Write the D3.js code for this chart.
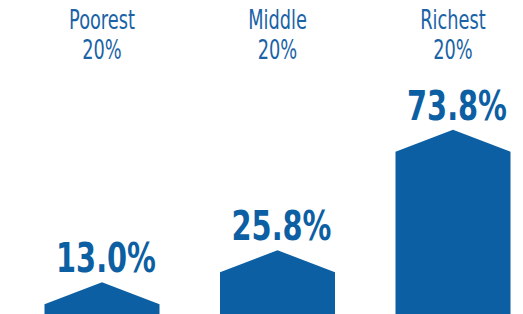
<!DOCTYPE html>
<html lang="en">
<head>
<meta charset="utf-8">
<title>Share by quintile</title>
<script src="https://cdn.jsdelivr.net/npm/d3@7"></script>
<style>
  body { margin: 0; background: #fff; }
  .grp { fill: #1a63a6; font-family: "DejaVu Sans Condensed", "DejaVu Sans", sans-serif; font-size: 26px; }
  .val { fill: #0d5fa3; font-family: "DejaVu Sans Condensed", "DejaVu Sans", sans-serif; font-weight: bold; font-size: 40px; }
  .house { fill: #0d5fa3; }
</style>
</head>
<body>
<script>
var groups = ["Poorest", "Middle", "Richest"];
var groupSub = ["20%", "20%", "20%"];
var values = [13.0, 25.8, 73.8];

var w = 523, h = 314;
var barW = 115, roof = 22;

var svg = d3.select("body").append("svg")
  .attr("width", w)
  .attr("height", h);

var x = d3.scalePoint().domain(groups).range([102, 453]);
var y = d3.scaleLinear().domain([0, 100]).range([315, 64]);

var data = groups.map(function(g, i){ return {g: g, sub: groupSub[i], v: values[i]}; });

// house shaped bars
svg.selectAll("path.house")
  .data(data)
  .enter()
  .append("path")
  .attr("class", "house")
  .attr("d", function(d){
    var cx = x(d.g), top = y(d.v), base = y(0) + 10;
    return "M" + (cx - barW/2) + "," + base +
      "L" + (cx - barW/2) + "," + (top + roof) +
      "L" + cx + "," + top +
      "L" + (cx + barW/2) + "," + (top + roof) +
      "L" + (cx + barW/2) + "," + base + "Z";
  });

// value labels, squeezed to look like a condensed face
svg.selectAll("text.val")
  .data(data)
  .enter()
  .append("text")
  .attr("class", "val")
  .attr("text-anchor", "middle")
  .attr("transform", function(d){ return "translate(" + (x(d.g) + 4) + "," + (y(d.v) - 10) + ") scale(0.8,1)"; })
  .text(function(d){ return d.v.toFixed(1) + "%"; });

var lab = svg.selectAll("text.grp")
  .data(data)
  .enter()
  .append("text")
  .attr("class", "grp")
  .attr("text-anchor", "middle")
  .attr("transform", function(d){ return "translate(" + x(d.g) + ",29) scale(0.76,1)"; });
lab.append("tspan").attr("x", 0).text(function(d){ return d.g; });
lab.append("tspan")
  .attr("x", 0)
  .attr("dy", 30)
  .text(function(d){ return d.sub; });
</script>
</body>
</html>
